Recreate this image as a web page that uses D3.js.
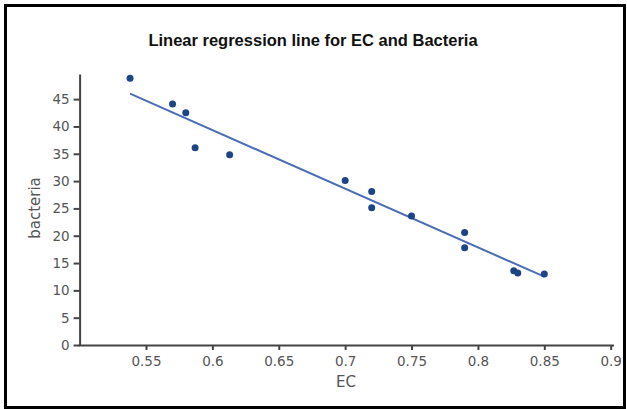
<!DOCTYPE html>
<html>
<head>
<meta charset="utf-8">
<script src="https://cdn.jsdelivr.net/npm/d3@7"></script>
<style>
  body { margin: 0; background: #fff; }
  svg { display: block; }
</style>
</head>
<body>
<div id="chart"></div>
<script>
// values
const ecValues = [0.538, 0.570, 0.580, 0.587, 0.613, 0.700, 0.720, 0.720, 0.750, 0.790, 0.790, 0.827, 0.830, 0.850];
const bacteriaValues = [48.8, 44.1, 42.5, 36.1, 34.8, 30.1, 28.1, 25.1, 23.6, 20.6, 17.8, 13.6, 13.2, 13.0];
// regression line end points
const lineEC = [0.538, 0.850];
const lineBacteria = [46.0, 12.5];
const xTicks = [0.55, 0.6, 0.65, 0.7, 0.75, 0.8, 0.85, 0.9];
const yTicks = [0, 5, 10, 15, 20, 25, 30, 35, 40, 45];

const width = 627, height = 409;
const svg = d3.select("#chart").append("svg").attr("width", width).attr("height", height);

// outer frame
svg.append("rect")
    .attr("x", 5.5).attr("y", 5.5)
    .attr("width", 619).attr("height", 402)
    .attr("fill", "none").attr("stroke", "#000").attr("stroke-width", 3);

const x = d3.scaleLinear().domain([0.5, 0.9]).range([79.6, 610.7]);
const y = d3.scaleLinear().domain([0, 49.6]).range([345, 74]);

const tickFont = "DejaVu Sans, Verdana, sans-serif";

const xAxis = svg.append("g")
    .attr("transform", "translate(0,345)")
    .call(d3.axisBottom(x).tickValues(xTicks).tickFormat(d3.format("")).tickSize(5).tickSizeOuter(0).tickPadding(6));
const yAxis = svg.append("g")
    .attr("transform", "translate(79.6,0)")
    .call(d3.axisLeft(y).tickValues(yTicks).tickSize(6).tickSizeOuter(0).tickPadding(4));

[xAxis, yAxis].forEach(g => {
  g.select(".domain").attr("stroke", "#444").attr("stroke-width", 2);
  g.selectAll(".tick line").attr("stroke", "#444").attr("stroke-width", 2);
  g.selectAll(".tick text").attr("fill", "#555").style("font-family", tickFont).style("font-size", "13.5px");
});
xAxis.select(".domain").attr("d", "M78.6,0.5H614");

svg.append("text")
    .attr("x", 313)
    .attr("y", 46)
    .attr("text-anchor", "middle")
    .style("font-family", "Liberation Sans, Arial, sans-serif")
    .style("font-weight", "bold")
    .style("font-size", "16.5px")
    .attr("fill", "#111")
    .text("Linear regression line for EC and Bacteria");

svg.append("text")
    .attr("x", 346)
    .attr("y", 387)
    .attr("text-anchor", "middle")
    .style("font-family", tickFont)
    .style("font-size", "15px")
    .attr("fill", "#555")
    .text("EC");

svg.append("text")
    .attr("transform", "rotate(-90)")
    .attr("x", -208)
    .attr("y", 40)
    .attr("text-anchor", "middle")
    .style("font-family", tickFont)
    .style("font-size", "15px")
    .attr("fill", "#555")
    .text("bacteria");

const lineData = lineEC.map((d, i) => [d, lineBacteria[i]]);
svg.append("path")
    .datum(lineData)
    .attr("d", d3.line().x(d => x(d[0])).y(d => y(d[1])))
    .attr("fill", "none")
    .attr("stroke", "#4a6db5")
    .attr("stroke-width", 2);

const points = ecValues.map((d, i) => ({ ec: d, bacteria: bacteriaValues[i] }));
svg.selectAll("circle.pt").data(points).enter().append("circle")
    .attr("class", "pt")
    .attr("cx", d => x(d.ec))
    .attr("cy", d => y(d.bacteria))
    .attr("r", 3.5)
    .attr("fill", "#1d4585");
</script>
</body>
</html>
